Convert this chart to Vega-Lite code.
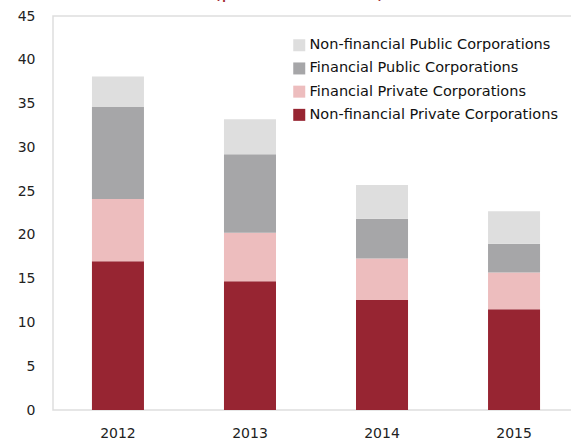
{
  "$schema": "https://vega.github.io/schema/vega-lite/v6.json",
  "autosize": {"type": "none"},
  "padding": {"left": 53, "top": 16, "right": 0, "bottom": 34},
  "width": 526,
  "height": 394,
  "background": "white",
  "title": {
    "text": "(percent of GDP)",
    "color": "#A32D35",
    "fontSize": 20.5,
    "font": "DejaVu Sans",
    "fontWeight": "normal",
    "anchor": "middle",
    "dx": -17,
    "baseline": "alphabetic",
    "offset": -9
  },
  "config": {
    "view": {"stroke": "#DEDEDE", "strokeWidth": 1.5},
    "axis": {"labelFont": "DejaVu Sans", "labelColor": "#222222", "labelFontSize": 14, "domain": false, "ticks": false, "grid": false, "title": null}
  },
  "data": {
    "values": [
      {"year": "2012", "type": "Non-financial Private Corporations", "value": 17.0},
      {"year": "2012", "type": "Financial Private Corporations", "value": 7.1},
      {"year": "2012", "type": "Financial Public Corporations", "value": 10.5},
      {"year": "2012", "type": "Non-financial Public Corporations", "value": 3.5},
      {"year": "2013", "type": "Non-financial Private Corporations", "value": 14.7},
      {"year": "2013", "type": "Financial Private Corporations", "value": 5.55},
      {"year": "2013", "type": "Financial Public Corporations", "value": 8.95},
      {"year": "2013", "type": "Non-financial Public Corporations", "value": 4.0},
      {"year": "2014", "type": "Non-financial Private Corporations", "value": 12.55},
      {"year": "2014", "type": "Financial Private Corporations", "value": 4.75},
      {"year": "2014", "type": "Financial Public Corporations", "value": 4.55},
      {"year": "2014", "type": "Non-financial Public Corporations", "value": 3.85},
      {"year": "2015", "type": "Non-financial Private Corporations", "value": 11.5},
      {"year": "2015", "type": "Financial Private Corporations", "value": 4.2},
      {"year": "2015", "type": "Financial Public Corporations", "value": 3.3},
      {"year": "2015", "type": "Non-financial Public Corporations", "value": 3.7}
    ]
  },
  "transform": [
    {"calculate": "indexof(['Non-financial Private Corporations','Financial Private Corporations','Financial Public Corporations','Non-financial Public Corporations'], datum.type)", "as": "stackOrder"}
  ],
  "mark": {"type": "bar"},
  "encoding": {
    "x": {
      "field": "year", "type": "nominal",
      "scale": {"paddingInner": 0.606, "paddingOuter": 0.295},
      "axis": {"labelAngle": 0, "labelPadding": 16}
    },
    "y": {
      "field": "value", "type": "quantitative", "aggregate": "sum",
      "scale": {"domain": [0, 45], "nice": false},
      "axis": {"values": [0, 5, 10, 15, 20, 25, 30, 35, 40, 45], "labelPadding": 18}
    },
    "color": {
      "field": "type", "type": "nominal",
      "scale": {
        "domain": ["Non-financial Public Corporations", "Financial Public Corporations", "Financial Private Corporations", "Non-financial Private Corporations"],
        "range": ["#DEDEDE", "#A6A6A8", "#EDBDBE", "#972532"]
      },
      "legend": {
        "orient": "none", "legendX": 239, "legendY": 22, "title": null,
        "symbolType": "square", "symbolSize": 144, "symbolStrokeWidth": 0,
        "labelFont": "DejaVu Sans", "labelFontSize": 14.5, "labelColor": "#111111",
        "rowPadding": 8.2, "labelOffset": 3, "labelLimit": 400
      }
    },
    "order": {"field": "stackOrder", "type": "quantitative"}
  }
}
